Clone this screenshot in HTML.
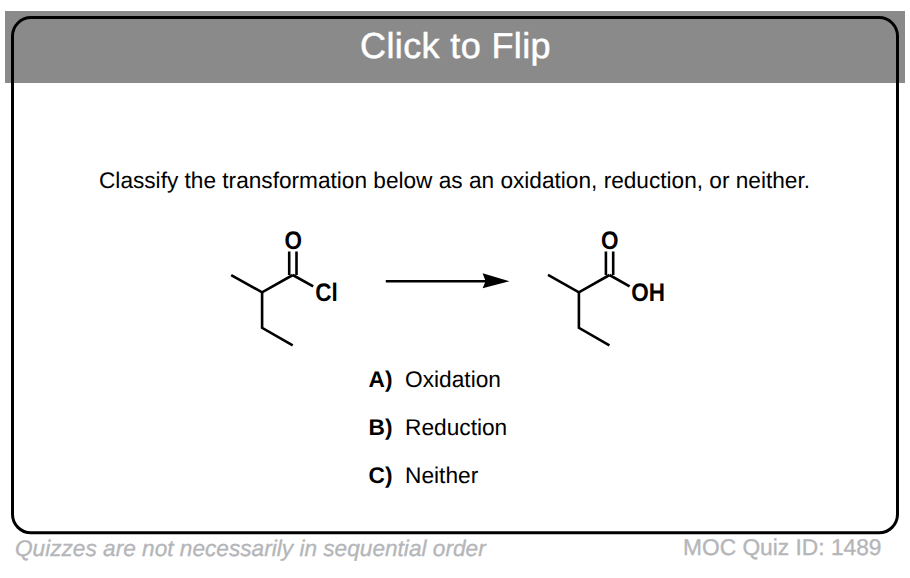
<!DOCTYPE html>
<html>
<head>
<meta charset="utf-8">
<style>
html,body{margin:0;padding:0;background:#fff;}
body{width:910px;height:578px;position:relative;overflow:hidden;font-family:"Liberation Sans",sans-serif;text-rendering:geometricPrecision;}
.band{position:absolute;left:5px;top:11px;width:900px;height:72px;background:#8a8a8a;}
.t{position:absolute;white-space:nowrap;line-height:1;}
.flip{left:360px;top:28px;font-size:36px;color:#fff;letter-spacing:0.38px;-webkit-text-stroke:0.5px #fff;}
.q{left:99px;top:169px;font-size:22.65px;color:#000;}
.opt{font-size:22.7px;color:#000;}
.opt b{font-weight:bold;}
.foot{font-size:22.75px;color:#b5b6b9;-webkit-text-stroke:0.35px #b5b6b9;}
svg{position:absolute;left:0;top:0;}
</style>
</head>
<body>
<div class="band"></div>
<svg width="910" height="578" viewBox="0 0 910 578">
  <rect x="12.5" y="17.6" width="885" height="515.2" rx="18.5" ry="18.5" fill="none" stroke="#000" stroke-width="3"/>
  <g fill="none" stroke="#000" stroke-width="2.6" stroke-linecap="butt" stroke-linejoin="miter">
    <!-- left molecule -->
    <polyline points="231.2,275.1 262.1,292.3 292.8,275.0"/>
    <polyline points="262.1,292.3 262.1,327.8 292.7,345.4"/>
    <line x1="292.8" y1="275.0" x2="313.2" y2="286.4"/>
    <line x1="289.2" y1="251.5" x2="289.2" y2="275"/>
    <line x1="296.5" y1="251.5" x2="296.5" y2="275"/>
    <!-- right molecule -->
    <polyline points="548.0,274.8 578.9,292.3 609.5,275.0"/>
    <polyline points="578.9,292.3 578.9,327.8 609.4,345.4"/>
    <line x1="609.5" y1="275.0" x2="629.6" y2="286.4"/>
    <line x1="605.9" y1="251.5" x2="605.9" y2="275"/>
    <line x1="613.2" y1="251.5" x2="613.2" y2="275"/>
    <!-- arrow -->
    <line x1="385.8" y1="281.3" x2="490" y2="281.3" stroke-width="2.6"/>
  </g>
  <polygon points="509.4,281.3 482.6,273.3 485.6,281.3 482.6,288.3" fill="#000"/>
  <g font-family="Liberation Sans" font-weight="bold" font-size="22.5" fill="#000">
    <text x="293.2" y="247.6" text-anchor="middle" transform="translate(0,239.4) scale(1,1.13) translate(0,-239.4)">O</text>
    <text x="609.7" y="247.6" text-anchor="middle" transform="translate(0,239.4) scale(1,1.13) translate(0,-239.4)">O</text>
    <text x="315.3" y="299.8" transform="translate(0,291.8) scale(1,1.13) translate(0,-291.8)">Cl</text>
    <text x="631.2" y="299.8" transform="translate(0,291.8) scale(1,1.13) translate(0,-291.8)">OH</text>
  </g>
</svg>
<div class="t flip">Click to Flip</div>
<div class="t q">Classify the transformation below as an oxidation, reduction, or neither.</div>
<div class="t opt" style="left:368.5px;top:367.5px;"><b>A)</b>&nbsp; Oxidation</div>
<div class="t opt" style="left:368.5px;top:415.5px;"><b>B)</b>&nbsp; Reduction</div>
<div class="t opt" style="left:368.5px;top:463.5px;"><b>C)</b>&nbsp; Neither</div>
<div class="t foot" style="left:15px;top:536.6px;font-style:italic;font-size:22.65px;">Quizzes are not necessarily in sequential order</div>
<div class="t foot" style="left:683px;top:536px;">MOC Quiz ID: 1489</div>
</body>
</html>
